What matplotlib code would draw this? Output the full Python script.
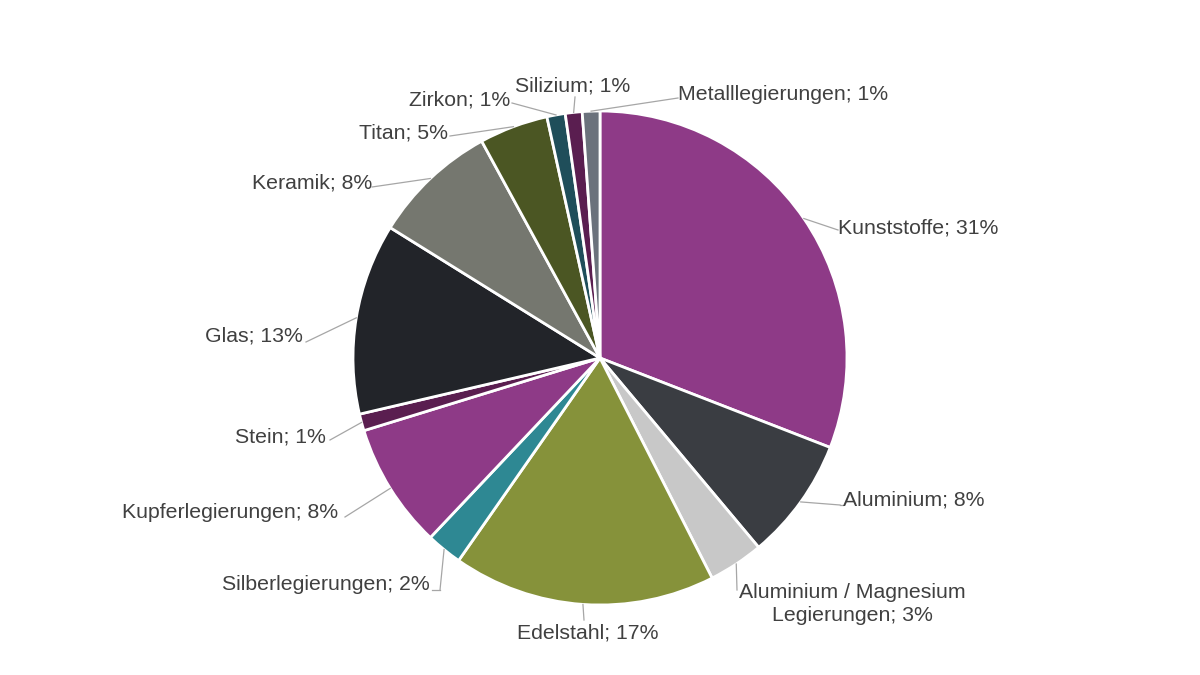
import numpy as np
from matplotlib import pyplot as plt

materials = [
    "Kunststoffe", "Aluminium", "Aluminium / Magnesium\nLegierungen", "Edelstahl",
    "Silberlegierungen", "Kupferlegierungen", "Stein", "Glas", "Keramik",
    "Titan", "Zirkon", "Silizium", "Metalllegierungen",
]
shares = [30.9, 8.0, 3.6, 17.2, 2.35, 8.2, 1.1, 12.5, 8.2, 4.5, 1.2, 1.1, 1.15]
shown_pct = ["31%", "8%", "3%", "17%", "2%", "8%", "1%", "13%", "8%", "5%", "1%", "1%", "1%"]
colors = [
    "#8e3a87", "#3a3d42", "#c8c8c8", "#86923a", "#2e8893", "#8e3a87", "#5a1e50",
    "#222429", "#75776f", "#4b5623", "#1f4e5a", "#5a1e50", "#6b727c",
]

# label layout in pixel space (image y downward): text anchor, alignment
label_pos = [
    ((838, 228), "left"), ((843, 500), "left"), ((852, 604), "center"),
    ((588, 633), "center"), ((430, 585), "right"), ((338, 513), "right"),
    ((326, 437), "right"), ((303, 336), "right"), ((372, 183), "right"),
    ((448, 133), "right"), ((510, 100), "right"), ((573, 86), "center"),
    ((678, 94), "left"),
]
# where each leader line meets the text (pixel space)
leader_end = [
    (838, 230), (840, 505), (737, 590), (584, 620), (440, 590), (345, 517),
    (330, 440), (306, 342), (372, 187), (450, 136), (512, 103), (575, 97),
    (678, 98),
]

W, H = 1200, 675
cx, cy, r = 600, H - 358, 247

fig = plt.figure(figsize=(12, 6.75), dpi=100)
ax = fig.add_axes([0, 0, 1, 1])

wedges, _ = ax.pie(
    shares, colors=colors, startangle=90, counterclock=False,
    center=(cx, cy), radius=r, frame=True,
    wedgeprops=dict(edgecolor="white", linewidth=2),
)
ax.set_xlim(0, W)
ax.set_ylim(0, H)
ax.axis("off")

txt_color = "#404040"
for w, name, pct, (pos, ha), end in zip(wedges, materials, shown_pct, label_pos, leader_end):
    mid = np.deg2rad((w.theta1 + w.theta2) / 2)
    ex, ey = cx + r * np.cos(mid), cy + r * np.sin(mid)
    lx, ly = end
    ax.plot([ex, lx], [ey, H - ly], color="#a6a6a6", lw=0.9)
    if ha == "left":
        ax.plot([lx, pos[0]], [H - ly, H - ly], color="#a6a6a6", lw=0.9)
    elif ha == "right" and name.startswith("Silber"):
        ax.plot([lx, pos[0] + 2], [H - ly, H - ly], color="#a6a6a6", lw=0.9)
    ax.text(pos[0], H - pos[1], f"{name}; {pct}", ha=ha, va="center",
            fontsize=15.3, color=txt_color, family="Liberation Sans",
            linespacing=1.3)

fig.savefig("out.png", dpi=100, facecolor="white")
